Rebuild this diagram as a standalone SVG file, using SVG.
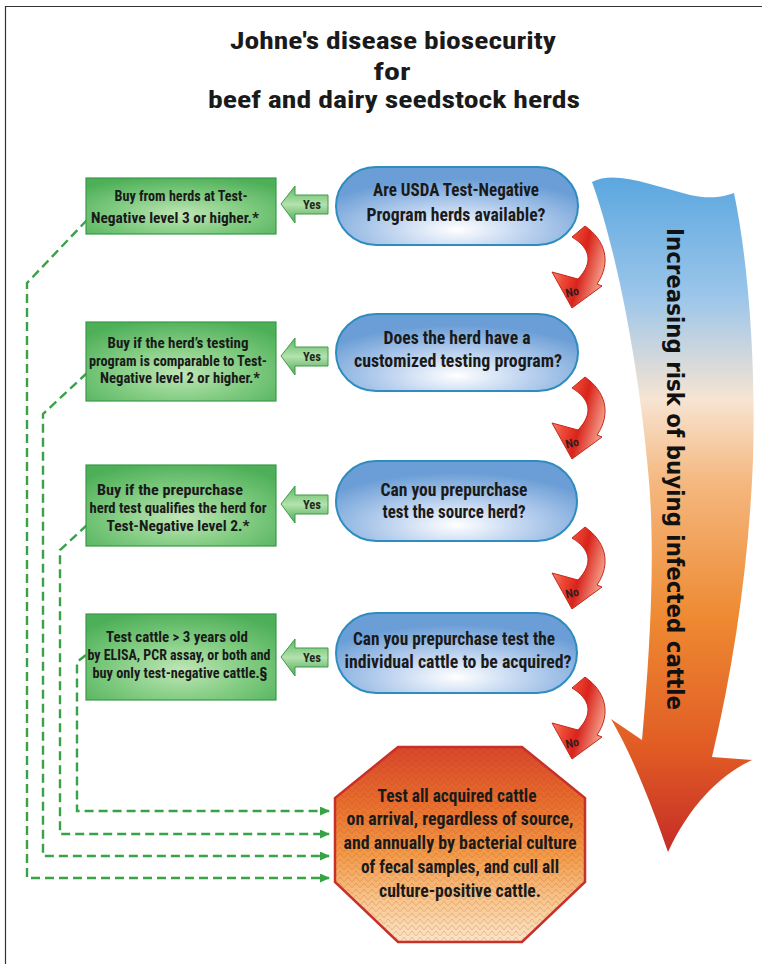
<svg xmlns="http://www.w3.org/2000/svg" width="767" height="964" viewBox="0 0 767 964">
<defs>
<style>
.t{font-family:"Liberation Sans Narrow","Roboto Condensed","Liberation Sans",Arial,sans-serif;font-weight:bold;fill:#1a1a1a;text-anchor:middle}
.title{font-size:24px}
.q{font-size:18.5px}
.g{font-size:15px}
.o{font-size:18.5px}
.yes{font-family:"Liberation Sans Narrow","Roboto Condensed","Liberation Sans",Arial,sans-serif;font-weight:bold;font-size:12.5px;fill:#1e2a1e;text-anchor:middle}
.no{font-family:"Liberation Sans Narrow","Roboto Condensed","Liberation Sans",Arial,sans-serif;font-weight:bold;font-size:12px;fill:#3a1c1c;text-anchor:middle}
.oval{fill:url(#blueG);stroke:#2f8cbf;stroke-width:2}
.box{fill:url(#greenG);stroke:#3a9a46;stroke-width:1.2}
.yarrow{fill:url(#yesG);stroke:#3c9a46;stroke-width:1}
.narrow{fill:url(#redG);stroke:#c4281e;stroke-width:1}
.dash{fill:none;stroke:#37a246;stroke-width:2.4;stroke-dasharray:9 5;marker-end:url(#gArrow)}
</style>
<radialGradient id="blueG" cx="50%" cy="80%" r="65%">
<stop offset="0" stop-color="#ffffff"/>
<stop offset="0.45" stop-color="#bcd2ef"/>
<stop offset="1" stop-color="#6b9ed6"/>
</radialGradient>
<radialGradient id="greenG" cx="50%" cy="65%" r="70%">
<stop offset="0" stop-color="#bfe6b6"/>
<stop offset="0.5" stop-color="#82cc82"/>
<stop offset="1" stop-color="#4daf58"/>
</radialGradient>
<linearGradient id="yesG" x1="0" y1="0" x2="0" y2="1">
<stop offset="0" stop-color="#5bb863"/>
<stop offset="0.5" stop-color="#b4e2ac"/>
<stop offset="1" stop-color="#4aa955"/>
</linearGradient>
<linearGradient id="redG" x1="0" y1="0" x2="1" y2="0.4">
<stop offset="0" stop-color="#f7b6a4"/>
<stop offset="0.4" stop-color="#ee4a36"/>
<stop offset="0.65" stop-color="#d9231b"/>
<stop offset="1" stop-color="#f29480"/>
</linearGradient>
<linearGradient id="bigG" gradientUnits="userSpaceOnUse" x1="0" y1="175" x2="0" y2="855">
<stop offset="0" stop-color="#5aa6df"/>
<stop offset="0.18" stop-color="#9cc6ea"/>
<stop offset="0.33" stop-color="#f7e4d2"/>
<stop offset="0.45" stop-color="#f5b880"/>
<stop offset="0.65" stop-color="#ee8a32"/>
<stop offset="0.85" stop-color="#e05a24"/>
<stop offset="1" stop-color="#c42a28"/>
</linearGradient>
<linearGradient id="octG" gradientUnits="userSpaceOnUse" x1="0" y1="747" x2="0" y2="942">
<stop offset="0" stop-color="#d8462a"/>
<stop offset="0.3" stop-color="#e8702e"/>
<stop offset="0.55" stop-color="#f29a48"/>
<stop offset="0.8" stop-color="#f8c890"/>
<stop offset="1" stop-color="#fbe4c6"/>
</linearGradient>
<pattern id="zig" width="8" height="6" patternUnits="userSpaceOnUse">
<path d="M0,6 L4,1 L8,6" fill="none" stroke="#b83418" stroke-opacity="0.22" stroke-width="1"/>
</pattern>
<marker id="gArrow" markerUnits="userSpaceOnUse" markerWidth="10" markerHeight="9" refX="9" refY="4.5" orient="auto">
<path d="M0,0 L10,4.5 L0,9 Z" fill="#37a246"/>
</marker>
</defs>

<rect width="767" height="964" fill="#ffffff"/>
<path d="M5.5,964 V6.5 H762" fill="none" stroke="#333" stroke-width="1.2"/>

<g id="title">
<text class="t title" x="393" y="49" textLength="326" lengthAdjust="spacingAndGlyphs">Johne's disease biosecurity</text>
<text class="t title" x="392" y="80" textLength="37" lengthAdjust="spacingAndGlyphs">for</text>
<text class="t title" x="394" y="108" textLength="372" lengthAdjust="spacingAndGlyphs">beef and dairy seedstock herds</text>
</g>

<g id="risk-arrow">
<path d="M592,182 C615,170 650,185 690,195 C712,200 725,196 734,193 C748,260 756,360 753,460 C749,560 735,660 712,757 L752,760 C720,775 690,805 668,852 C655,815 635,760 611,719 L642,740 C650,650 656,550 648,470 C640,380 620,260 592,182 Z" fill="url(#bigG)"/>
<text transform="translate(667,469) rotate(90)" font-family="'DejaVu Sans',Verdana,sans-serif" font-weight="bold" font-size="23" fill="#111" text-anchor="middle" textLength="482" lengthAdjust="spacingAndGlyphs">Increasing risk of buying infected cattle</text>
</g>

<g id="connectors">
<path class="dash" d="M87,220 L27,283 L27,878 L329,878"/>
<path class="dash" d="M87,373 L43,414 L43,856 L329,856"/>
<path class="dash" d="M87,525 L60,550 L60,834 L329,834"/>
<path class="dash" d="M86,655 L77,662 L77,811 L329,811"/>

<g id="yes1" transform="translate(281,204)">
<path class="yarrow" d="M0,0 L14,-18 L14,-9 L47,-9 L47,10 L14,10 L14,19 Z"/>
<text class="yes" x="31" y="5">Yes</text>
</g>
<g id="yes2" transform="translate(281,356)">
<path class="yarrow" d="M0,0 L14,-18 L14,-9 L47,-9 L47,10 L14,10 L14,19 Z"/>
<text class="yes" x="31" y="5">Yes</text>
</g>
<g id="yes3" transform="translate(281,504)">
<path class="yarrow" d="M0,0 L14,-18 L14,-9 L47,-9 L47,10 L14,10 L14,19 Z"/>
<text class="yes" x="31" y="5">Yes</text>
</g>
<g id="yes4" transform="translate(281,657)">
<path class="yarrow" d="M0,0 L14,-18 L14,-9 L47,-9 L47,10 L14,10 L14,19 Z"/>
<text class="yes" x="31" y="5">Yes</text>
</g>

<g id="no1">
<path class="narrow" d="M572,237 L585,226 C605,240 612,262 597,284 L602,286 L572,308 L552,272 L578,279 C594,262 590,248 572,237 Z"/>
<text class="no" transform="translate(573,296) rotate(-12)">No</text>
</g>
<g id="no2" transform="translate(0,151)">
<path class="narrow" d="M572,237 L585,226 C605,240 612,262 597,284 L602,286 L572,308 L552,272 L578,279 C594,262 590,248 572,237 Z"/>
<text class="no" transform="translate(573,296) rotate(-12)">No</text>
</g>
<g id="no3" transform="translate(0,301)">
<path class="narrow" d="M572,237 L585,226 C605,240 612,262 597,284 L602,286 L572,308 L552,272 L578,279 C594,262 590,248 572,237 Z"/>
<text class="no" transform="translate(573,296) rotate(-12)">No</text>
</g>
<g id="no4" transform="translate(0,451)">
<path class="narrow" d="M572,237 L585,226 C605,240 612,262 597,284 L602,286 L572,308 L552,272 L578,279 C594,262 590,248 572,237 Z"/>
<text class="no" transform="translate(573,296) rotate(-12)">No</text>
</g>
</g>

<g id="q1">
<rect class="oval" x="336" y="167" width="242" height="78" rx="40" ry="39"/>
<text class="t q" x="456" y="196" textLength="166" lengthAdjust="spacingAndGlyphs">Are USDA Test-Negative</text>
<text class="t q" x="456" y="221" textLength="179" lengthAdjust="spacingAndGlyphs">Program herds available?</text>
</g>
<g id="q2">
<rect class="oval" x="336" y="314" width="242" height="77" rx="40" ry="38.5"/>
<text class="t q" x="457" y="344" textLength="147" lengthAdjust="spacingAndGlyphs">Does the herd have a</text>
<text class="t q" x="458" y="367" textLength="208" lengthAdjust="spacingAndGlyphs">customized testing program?</text>
</g>
<g id="q3">
<rect class="oval" x="336" y="461" width="241" height="80" rx="40" ry="40"/>
<text class="t q" x="454" y="496" textLength="147" lengthAdjust="spacingAndGlyphs">Can you prepurchase</text>
<text class="t q" x="454" y="518" textLength="143" lengthAdjust="spacingAndGlyphs">test the source herd?</text>
</g>
<g id="q4">
<rect class="oval" x="336" y="613" width="241" height="80" rx="40" ry="40"/>
<text class="t q" x="454" y="645" textLength="202" lengthAdjust="spacingAndGlyphs">Can you prepurchase test the</text>
<text class="t q" x="458" y="668" textLength="227" lengthAdjust="spacingAndGlyphs">individual cattle to be acquired?</text>
</g>

<g id="a1">
<rect class="box" x="86" y="178" width="190" height="56"/>
<text class="t g" x="181" y="201" textLength="133" lengthAdjust="spacingAndGlyphs">Buy from herds at Test-</text>
<text class="t g" x="175" y="223" textLength="168" lengthAdjust="spacingAndGlyphs">Negative level 3 or higher.*</text>
</g>
<g id="a2">
<rect class="box" x="86" y="322" width="190" height="79"/>
<text class="t g" x="178" y="348" textLength="141" lengthAdjust="spacingAndGlyphs">Buy if the herd’s testing</text>
<text class="t g" x="178" y="365.5" textLength="178" lengthAdjust="spacingAndGlyphs">program is comparable to Test-</text>
<text class="t g" x="180" y="383" textLength="160" lengthAdjust="spacingAndGlyphs">Negative level 2 or higher.*</text>
</g>
<g id="a3">
<rect class="box" x="86" y="465" width="190" height="81"/>
<text class="t g" x="170" y="495" textLength="146" lengthAdjust="spacingAndGlyphs">Buy if the prepurchase</text>
<text class="t g" x="178" y="513" textLength="177" lengthAdjust="spacingAndGlyphs">herd test qualifies the herd for</text>
<text class="t g" x="178" y="531" textLength="143" lengthAdjust="spacingAndGlyphs">Test-Negative level 2.*</text>
</g>
<g id="a4">
<rect class="box" x="86" y="614" width="190" height="86"/>
<text class="t g" x="177" y="642" textLength="142" lengthAdjust="spacingAndGlyphs">Test cattle &gt; 3 years old</text>
<text class="t g" x="179" y="660" textLength="183" lengthAdjust="spacingAndGlyphs">by ELISA, PCR assay, or both and</text>
<text class="t g" x="180" y="678" textLength="175" lengthAdjust="spacingAndGlyphs">buy only test-negative cattle.§</text>
</g>

<g id="final">
<polygon points="398,747 522,747 585,798 585,882 522,942 398,942 335,882 335,798" fill="url(#octG)"/>
<polygon points="398,747 522,747 585,798 585,882 522,942 398,942 335,882 335,798" fill="url(#zig)" stroke="#c8302a" stroke-width="2.5"/>
<text class="t o" x="457" y="802" textLength="159" lengthAdjust="spacingAndGlyphs">Test all acquired cattle</text>
<text class="t o" x="460" y="825" textLength="227" lengthAdjust="spacingAndGlyphs">on arrival, regardless of source,</text>
<text class="t o" x="460" y="849" textLength="233" lengthAdjust="spacingAndGlyphs">and annually by bacterial culture</text>
<text class="t o" x="460" y="873" textLength="198" lengthAdjust="spacingAndGlyphs">of fecal samples, and cull all</text>
<text class="t o" x="460" y="897" textLength="162" lengthAdjust="spacingAndGlyphs">culture-positive cattle.</text>
</g>
</svg>
